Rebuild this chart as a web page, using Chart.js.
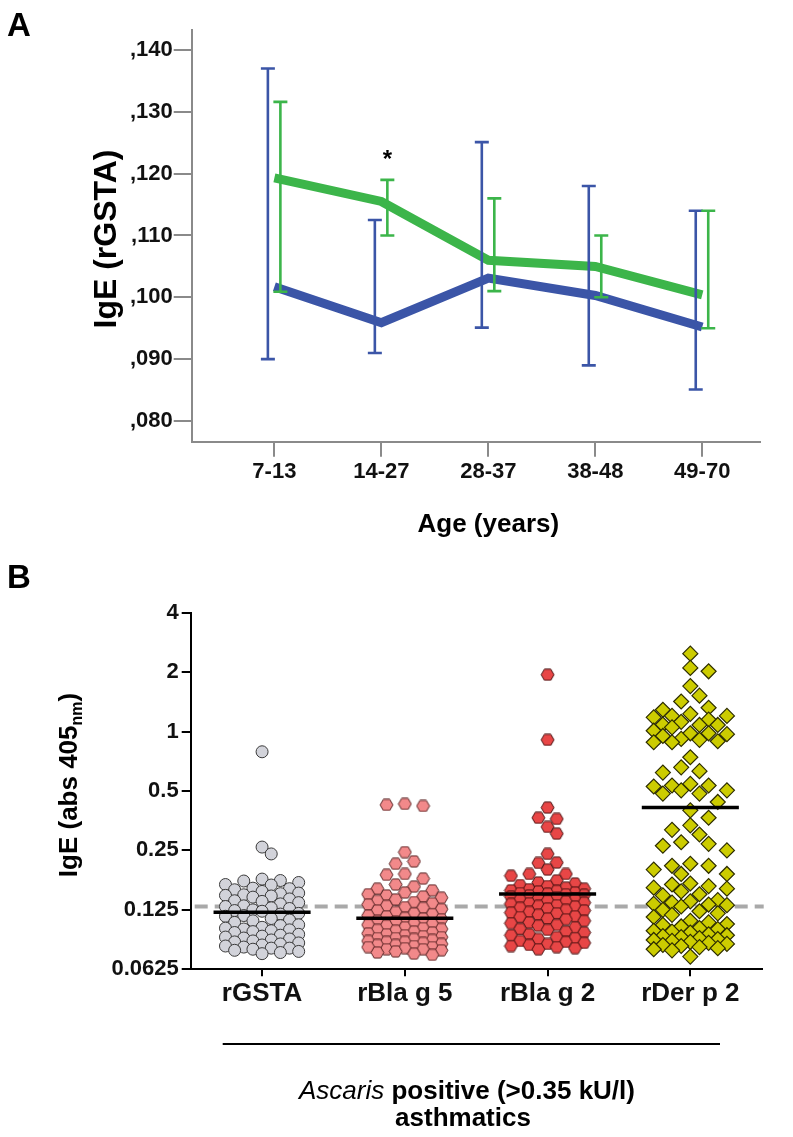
<!DOCTYPE html>
<html><head><meta charset="utf-8">
<script src="https://cdn.jsdelivr.net/npm/chart.js@4.4.1/dist/chart.umd.min.js"></script>
<style>
html,body{margin:0;padding:0;background:#fff;}
body{width:793px;height:1137px;position:relative;overflow:hidden;}
canvas{position:absolute;left:0;display:block;}
#cA{top:0;}
#cB{top:560px;}
</style></head><body>
<canvas id="cA" width="793" height="560"></canvas>
<canvas id="cB" width="793" height="577"></canvas>
<script>
// ---------- Panel A data ----------
const ageGroups = ['7-13', '14-27', '28-37', '38-48', '49-70'];
const blueMean  = [0.1017, 0.0959, 0.1031, 0.1003, 0.0952];
const blueLow   = [0.0900, 0.0910, 0.0951, 0.0890, 0.0851];
const blueHigh  = [0.1370, 0.1125, 0.1251, 0.1180, 0.1140];
const greenMean = [0.1193, 0.1155, 0.1060, 0.1050, 0.1004];
const greenLow  = [0.1009, 0.1100, 0.1010, 0.1000, 0.0950];
const greenHigh = [0.1316, 0.1190, 0.1160, 0.1100, 0.1140];
const yTickValsA   = [0.080, 0.090, 0.100, 0.110, 0.120, 0.130, 0.140];
const yTickLabelsA = [',080', ',090', ',100', ',110', ',120', ',130', ',140'];
const starGroup = 1;

// ---------- Panel B data ----------
const allergens = ['rGSTA', 'rBla g 5', 'rBla g 2', 'rDer p 2'];
const rGSTA = [0.79, 0.26, 0.24,
  0.179, 0.176, 0.175, 0.172, 0.168, 0.167, 0.161, 0.16, 0.158,
  0.155, 0.152, 0.151, 0.149, 0.148, 0.147, 0.145, 0.142, 0.139, 0.138, 0.136,
  0.134, 0.131, 0.13, 0.128, 0.127, 0.125, 0.124, 0.123, 0.12, 0.119, 0.117,
  0.116, 0.113, 0.111, 0.11, 0.108, 0.105, 0.104, 0.102, 0.101, 0.1, 0.099,
  0.098, 0.097, 0.096, 0.094, 0.093, 0.092, 0.091, 0.09, 0.089, 0.088, 0.087,
  0.086, 0.085, 0.084, 0.083, 0.082, 0.081, 0.08, 0.08, 0.079, 0.078, 0.077,
  0.076, 0.075];
const rBlag5 = [0.43, 0.425, 0.42, 0.245, 0.22, 0.214, 0.19, 0.188, 0.18,
  0.168, 0.164, 0.16, 0.157, 0.153, 0.15, 0.148, 0.146, 0.144,
  0.141, 0.139, 0.137, 0.135, 0.133, 0.131, 0.129, 0.128, 0.126, 0.124,
  0.122, 0.12, 0.119, 0.117, 0.116, 0.114, 0.113, 0.112, 0.11, 0.109,
  0.107, 0.106, 0.105, 0.104, 0.102, 0.101, 0.1, 0.099, 0.098, 0.097, 0.096, 0.095,
  0.094, 0.093, 0.092, 0.091, 0.09, 0.09, 0.089, 0.088, 0.087, 0.086, 0.086, 0.085,
  0.084, 0.083, 0.083, 0.082, 0.081, 0.081, 0.08, 0.079, 0.079, 0.078, 0.077, 0.076, 0.075, 0.074];
const rBlag2 = [1.94, 0.908, 0.412, 0.366, 0.361, 0.329, 0.304, 0.24, 0.217, 0.216, 0.2, 0.19, 0.19, 0.186,
  0.176, 0.172, 0.17, 0.167, 0.165, 0.162, 0.16, 0.159, 0.157, 0.156, 0.155,
  0.153, 0.152, 0.151, 0.15, 0.149, 0.148, 0.146, 0.145, 0.143, 0.142, 0.141,
  0.139, 0.138, 0.136, 0.135, 0.134, 0.132, 0.131, 0.13, 0.128, 0.127,
  0.125, 0.124, 0.122, 0.121, 0.12, 0.118, 0.116, 0.115, 0.113, 0.112,
  0.11, 0.108, 0.107, 0.105, 0.104, 0.102, 0.1, 0.099, 0.097, 0.096,
  0.094, 0.093, 0.091, 0.09, 0.089, 0.087, 0.086, 0.085, 0.084, 0.083,
  0.082, 0.081, 0.08, 0.079];
const rDerp2 = [2.48, 2.1, 2.02, 1.7, 1.52, 1.42,
  1.32, 1.29, 1.23, 1.2, 1.2, 1.18, 1.15, 1.12,
  1.085, 1.08, 1.08, 1.05, 1.01, 0.98, 0.98, 0.97, 0.95,
  0.918, 0.908, 0.893, 0.883, 0.883, 0.741, 0.659, 0.63, 0.62,
  0.543, 0.533, 0.533, 0.527, 0.504, 0.504, 0.485, 0.485,
  0.44, 0.399, 0.366, 0.335, 0.318, 0.301, 0.275, 0.27, 0.264, 0.25,
  0.214, 0.209, 0.209, 0.2, 0.19, 0.19, 0.17, 0.168, 0.165, 0.162, 0.16,
  0.155, 0.15, 0.148, 0.14, 0.138, 0.136, 0.134, 0.133, 0.132, 0.13,
  0.125, 0.123, 0.12, 0.118, 0.115, 0.11, 0.108, 0.106, 0.105, 0.103,
  0.101, 0.1, 0.098, 0.097, 0.096, 0.094, 0.093, 0.092, 0.091, 0.09,
  0.089, 0.088, 0.087, 0.086, 0.085, 0.084, 0.083, 0.082, 0.081, 0.08,
  0.079, 0.078, 0.0725];
const groupValues = [rGSTA, rBlag5, rBlag2, rDerp2];
const centerLines = [0.1217, 0.1133, 0.1506, 0.412];
const cutoff = 0.13;
const yTickValsB   = [0.0625, 0.125, 0.25, 0.5, 1, 2, 4];
const yTickLabelsB = ['0.0625', '0.125', '0.25', '0.5', '1', '2', '4'];

// ---------- styling ----------
const FONT = '"Liberation Sans", Arial, sans-serif';
Chart.defaults.font.family = FONT;
Chart.defaults.color = '#111';
const BLUE = '#3b55a7', GREEN = '#3cb54a', AXIS = '#8a8a8a';

// ---------- Panel A ----------
const errBars = {
  id: 'errBars',
  afterDatasetsDraw(chart) {
    const {ctx, scales: {x, y}} = chart;
    const draw = (low, high, color, dx) => {
      ctx.save();
      ctx.strokeStyle = color; ctx.lineWidth = 2.6; ctx.lineCap = 'butt';
      low.forEach((lo, i) => {
        const px = x.getPixelForValue(i) + dx;
        const y1 = y.getPixelForValue(lo), y2 = y.getPixelForValue(high[i]);
        ctx.beginPath();
        ctx.moveTo(px, y1); ctx.lineTo(px, y2);
        ctx.moveTo(px - 7, y1); ctx.lineTo(px + 7, y1);
        ctx.moveTo(px - 7, y2); ctx.lineTo(px + 7, y2);
        ctx.stroke();
      });
      ctx.restore();
    };
    draw(blueLow, blueHigh, BLUE, -6.5);
    draw(greenLow, greenHigh, GREEN, 6);
  },
  afterDraw(chart) {
    const {ctx, scales: {x, y}} = chart;
    ctx.save();
    ctx.fillStyle = '#000';
    ctx.textAlign = 'left'; ctx.textBaseline = 'alphabetic';
    ctx.font = 'bold 33px ' + FONT;
    ctx.fillText('A', 7, 36);
    ctx.textAlign = 'center';
    ctx.font = 'bold 24px ' + FONT;
    ctx.fillText('*', x.getPixelForValue(starGroup) + 6, y.getPixelForValue(greenHigh[starGroup]) - 13);
    ctx.font = 'bold 26px ' + FONT;
    ctx.fillText('Age (years)', (x.getPixelForValue(0) + x.getPixelForValue(ageGroups.length - 1)) / 2, 532);
    ctx.translate(116, 239); ctx.rotate(-Math.PI / 2);
    ctx.font = 'bold 32px ' + FONT;
    ctx.fillText('IgE (rGSTA)', 0, 0);
    ctx.restore();
  }
};

new Chart(document.getElementById('cA'), {
  type: 'scatter',
  data: { datasets: [
    { data: greenMean.map((v, i) => ({x: i, y: v})), showLine: true, borderColor: GREEN, borderWidth: 9,
      pointRadius: 0, borderJoinStyle: 'miter', borderCapStyle: 'butt', tension: 0 },
    { data: blueMean.map((v, i) => ({x: i, y: v})), showLine: true, borderColor: BLUE, borderWidth: 9,
      pointRadius: 0, borderJoinStyle: 'miter', borderCapStyle: 'butt', tension: 0 }
  ]},
  options: {
    responsive: false, animation: false, devicePixelRatio: 1,
    layout: { padding: { left: 0, top: 30, right: 33, bottom: 0 } },
    plugins: { legend: { display: false }, tooltip: { enabled: false } },
    scales: {
      x: { type: 'linear', min: -0.773, max: 4.54,
        afterBuildTicks: s => { s.ticks = ageGroups.map((_, i) => ({ value: i })); },
        afterFit: s => { s.height = 118.3; },
        ticks: { callback: v => ageGroups[v], font: { size: 22, weight: 'bold' }, padding: 2, color: '#111', maxRotation: 0, autoSkip: false },
        grid: { drawOnChartArea: false, tickLength: 15, color: AXIS, lineWidth: 2 },
        border: { color: AXIS, width: 2 } },
      y: { type: 'linear', min: 0.07665, max: 0.14323,
        afterBuildTicks: s => { s.ticks = yTickValsA.map(v => ({ value: v })); },
        afterFit: s => { s.width = 191.7; },
        ticks: { callback: (v, i) => yTickLabelsA[i], font: { size: 22, weight: 'bold' }, padding: 1, color: '#111', autoSkip: false },
        grid: { drawOnChartArea: false, tickLength: 18, color: AXIS, lineWidth: 2 },
        border: { color: AXIS, width: 2 } }
    }
  },
  plugins: [errBars]
});

// ---------- Panel B ----------
// Prism-like scatter-dot layout: each point keeps its value, and is pushed sideways
// onto the nearest free column (columns half a symbol apart) to limit overlap.
function beeswarm(values, gi, xs, ys, dMin) {
  const STEP = 9.15, KMAX = 4;
  const cx = xs.getPixelForValue(gi);
  const order = values.slice().sort((a, b) => b - a);
  const placed = [], out = [];
  let flip = 1;
  for (const v of order) {
    const py = ys.getPixelForValue(v);
    const cands = [0];
    for (let k = 1; k <= KMAX; k++) cands.push(k * flip, -k * flip);
    let best = 0, bestScore = -1;
    for (const k of cands) {
      const px = cx + k * STEP;
      let minD = Infinity;
      for (const p of placed) { const d = Math.hypot(p.px - px, p.py - py); if (d < minD) minD = d; }
      if (minD >= dMin) { best = k; break; }
      if (minD > bestScore) { bestScore = minD; best = k; }
    }
    flip = -flip;
    const px = cx + best * STEP;
    placed.push({ px, py });
    out.push({ x: xs.getValueForPixel(px), y: v });
  }
  return out;
}
function hexImg(fill, stroke) {
  const c = document.createElement('canvas');
  c.width = 15; c.height = 13;
  const g = c.getContext('2d');
  const R = 6.4, cx = 7.5, cy = 6.5;
  g.beginPath();
  for (let k = 0; k < 6; k++) {
    const a = Math.PI / 3 * k;
    g.lineTo(cx + R * Math.cos(a), cy + R * Math.sin(a));
  }
  g.closePath();
  g.fillStyle = fill; g.fill();
  g.lineWidth = 1; g.strokeStyle = stroke; g.stroke();
  return c;
}

const bPlugin = {
  id: 'bPlugin',
  beforeDatasetsDraw(chart) {
    const {ctx, chartArea: a, scales: {y}} = chart;
    const py = y.getPixelForValue(cutoff);
    ctx.save();
    ctx.strokeStyle = '#a9a9a9'; ctx.lineWidth = 4; ctx.setLineDash([13, 7]);
    ctx.beginPath(); ctx.moveTo(a.left + 4, py); ctx.lineTo(a.right + 2, py); ctx.stroke();
    ctx.restore();
  },
  afterDatasetsDraw(chart) {
    const {ctx, scales: {x, y}} = chart;
    ctx.save();
    ctx.strokeStyle = '#000'; ctx.lineWidth = 3.5;
    centerLines.forEach((v, i) => {
      const py = y.getPixelForValue(v);
      ctx.beginPath(); ctx.moveTo(x.getPixelForValue(i - 0.34), py); ctx.lineTo(x.getPixelForValue(i + 0.34), py); ctx.stroke();
    });
    ctx.restore();
  },
  afterDraw(chart) {
    const {ctx} = chart;
    ctx.save();
    ctx.fillStyle = '#000';
    ctx.textBaseline = 'alphabetic'; ctx.textAlign = 'left';
    ctx.font = 'bold 33px ' + FONT;
    ctx.fillText('B', 7, 28);
    ctx.strokeStyle = '#000'; ctx.lineWidth = 2;
    ctx.beginPath(); ctx.moveTo(222.7, 484); ctx.lineTo(720, 484); ctx.stroke();
    const fI = 'italic 26px ' + FONT, fB = 'bold 26px ' + FONT;
    const t1 = 'Ascaris', t2 = ' positive (>0.35 kU/l)';
    ctx.font = fI; const w1 = ctx.measureText(t1).width;
    ctx.font = fB; const w2 = ctx.measureText(t2).width;
    const sx = 467 - (w1 + w2) / 2;
    ctx.font = fI; ctx.fillText(t1, sx, 539);
    ctx.font = fB; ctx.fillText(t2, sx + w1, 539);
    ctx.textAlign = 'center';
    ctx.fillText('asthmatics', 463, 566);
    ctx.translate(77, 225); ctx.rotate(-Math.PI / 2);
    ctx.textAlign = 'left';
    const fa = 'bold 26px ' + FONT, fs = 'bold 16px ' + FONT;
    const p1 = 'IgE (abs 405', p2 = 'nm', p3 = ')';
    ctx.font = fa; const wa = ctx.measureText(p1).width, wc = ctx.measureText(p3).width;
    ctx.font = fs; const wb = ctx.measureText(p2).width;
    const s0 = -(wa + wb + wc) / 2;
    ctx.font = fa; ctx.fillText(p1, s0, 0);
    ctx.font = fs; ctx.fillText(p2, s0 + wa, 5);
    ctx.font = fa; ctx.fillText(p3, s0 + wa + wb, 0);
    ctx.restore();
  }
};

const chartB = new Chart(document.getElementById('cB'), {
  type: 'scatter',
  data: { datasets: [
    { data: rGSTA.map(v => ({ x: 0, y: v })), pointStyle: 'circle', pointRadius: 6, backgroundColor: '#d2d3da', borderColor: '#3a3a3a', borderWidth: 1 },
    { data: rBlag5.map(v => ({ x: 1, y: v })), pointStyle: hexImg('#f2898a', '#5a2424'), pointRadius: 6 },
    { data: rBlag2.map(v => ({ x: 2, y: v })), pointStyle: hexImg('#e84646', '#4a1010'), pointRadius: 6 },
    { data: rDerp2.map(v => ({ x: 3, y: v })), pointStyle: 'rectRot', pointRadius: 7.5, backgroundColor: '#cccc00', borderColor: '#2e2e00', borderWidth: 1.2 }
  ]},
  options: {
    responsive: false, animation: false, devicePixelRatio: 1,
    layout: { padding: { left: 0, top: 52.7, right: 31.3, bottom: 0 } },
    plugins: { legend: { display: false }, tooltip: { enabled: false } },
    scales: {
      x: { type: 'linear', min: -0.5, max: 3.5,
        afterBuildTicks: s => { s.ticks = allergens.map((_, i) => ({ value: i })); },
        afterFit: s => { s.height = 167.7; },
        ticks: { callback: v => allergens[v], font: { size: 26, weight: 'bold' }, padding: 2, color: '#111', maxRotation: 0, autoSkip: false },
        grid: { drawOnChartArea: false, tickLength: 7, color: '#000', lineWidth: 2 },
        border: { color: '#000', width: 2 } },
      y: { type: 'logarithmic', min: 0.0625, max: 4,
        afterBuildTicks: s => { s.ticks = yTickValsB.map(v => ({ value: v })); },
        afterFit: s => { s.width = 190.7; },
        ticks: { callback: (v, i) => yTickLabelsB[i], font: { size: 22, weight: 'bold' }, padding: 3, color: '#111', autoSkip: false },
        grid: { drawOnChartArea: false, tickLength: 9, color: '#000', lineWidth: 2 },
        border: { color: '#000', width: 2 } }
    }
  },
  plugins: [bPlugin]
});
const minDist = [11, 11, 11, 12.5];
chartB.data.datasets.forEach((ds, gi) => {
  ds.data = beeswarm(groupValues[gi], gi, chartB.scales.x, chartB.scales.y, minDist[gi]);
});
chartB.update();
</script>
</body></html>
